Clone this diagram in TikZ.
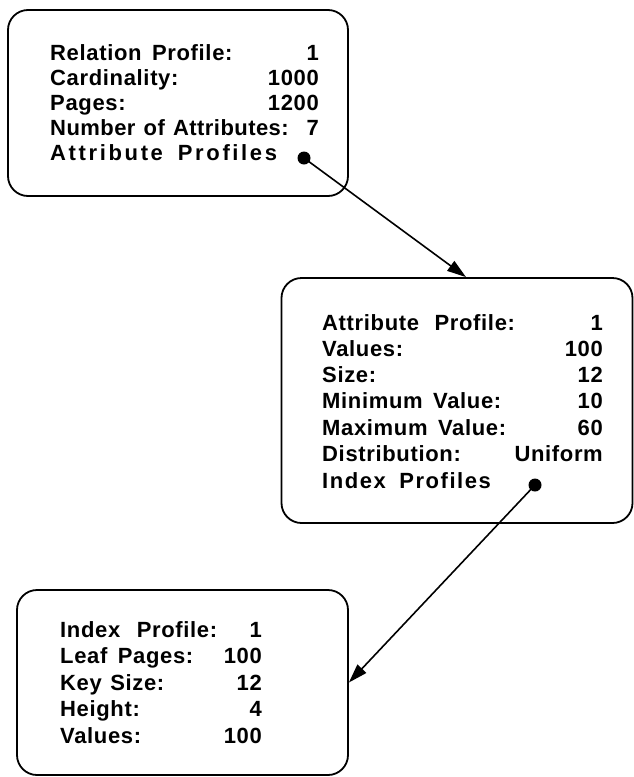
\documentclass[tikz,border=0pt]{standalone}
\usepackage{fontspec}
\setmainfont{Liberation Sans}[LetterSpace=3,WordSpace=1.25]
\usetikzlibrary{arrows.meta}
% wider tracking for the pointer lines
\newcommand{\track}[1]{\addfontfeature{LetterSpace=#1}}
\begin{document}
\begin{tikzpicture}[x=1pt,y=-1pt,
  profilebox/.style={draw,line width=1.8pt,rounded corners=20pt,inner sep=0pt},
  txt/.style={inner sep=0pt,font=\fontsize{22}{26}\selectfont\bfseries},
  lbl/.style={txt,anchor=base west},
  val/.style={txt,anchor=base east},
  pointer/.style={circle,fill=black,inner sep=0pt,minimum size=13pt},
  link/.style={line width=1.6pt,-{Triangle[length=19pt,width=12pt]}}]
\useasboundingbox (0,0) rectangle (634,777);

% relation profile
\node[profilebox,minimum width=340pt,minimum height=186pt] (rel) at (178,103) {};
\foreach \l/\v [count=\i] in {Relation\hspace{2pt} Profile:/1,Cardinality:/1000,Pages:/1200,{\track{2}Number of Attributes:}/7}{
  \node[lbl] (rl\i) at (50,{60+25*(\i-1)}) {\l};
  \node[val] (rv\i) at (319,{60+25*(\i-1)}) {\v};
}
\node[lbl] (rl5) at (50,160) {\track{12}Attribute\hspace{4pt} Profiles};
\node[pointer] (rdot) at (304,158) {};

% attribute profile
\node[profilebox,minimum width=351pt,minimum height=245pt] (att) at (457,400.5) {};
\foreach \l/\v [count=\i] in {Attribute\hspace{7pt} Profile:/1,Values:/100,Size:/12,Minimum\hspace{2pt} Value:/10,Maximum\hspace{2pt} Value:/60,Distribution:/Uniform}{
  \node[lbl] (al\i) at (322,{330+26.3*(\i-1)}) {\l};
  \node[val] (av\i) at (603,{330+26.3*(\i-1)}) {\v};
}
\node[lbl] (al7) at (322,488) {\track{7}Index\hspace{4pt} Profiles};
\node[pointer] (adot) at (535,485) {};

% index profile
\node[profilebox,minimum width=331pt,minimum height=185pt] (idx) at (182.5,682.5) {};
\foreach \l/\v [count=\i] in {Index\hspace{8pt} Profile:/1,Leaf\hspace{2pt} Pages:/100,Key Size:/12,Height:/4,Values:/100}{
  \node[lbl] (il\i) at (60,{637+26.5*(\i-1)}) {\l};
  \node[val] (iv\i) at (262,{637+26.5*(\i-1)}) {\v};
}

% links between profiles
\coordinate (attx) at (466,0);
\coordinate (attin) at (attx |- att.north);
\draw[link] (rdot.center) -- (attin);
\draw[link] (adot.center) -- (idx.east);
\end{tikzpicture}
\end{document}
